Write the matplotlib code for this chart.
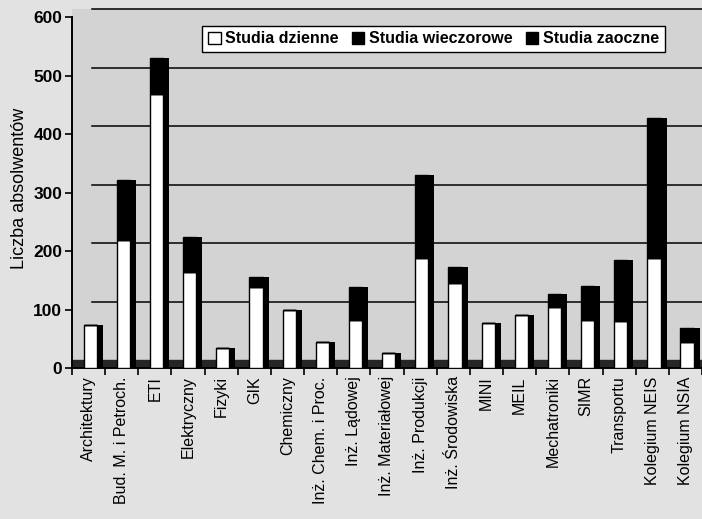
import matplotlib
matplotlib.use("Agg")
import matplotlib.pyplot as plt
import matplotlib.transforms as mtransforms
import numpy as np

plt.rcParams['font.family'] = ['Liberation Sans', 'DejaVu Sans']

categories = ["Architektury", "Bud. M. i Petroch.", "ETI", "Elektryczny", "Fizyki", "GIK",
              "Chemiczny", "Inż. Chem. i Proc.", "Inż. Lądowej", "Inż. Materiałowej",
              "Inż. Produkcji", "Inż. Środowiska", "MINI", "MEIL", "Mechatroniki", "SIMR",
              "Transportu", "Kolegium NEIS", "Kolegium NSIA"]
dzienne = [73, 219, 468, 164, 35, 139, 100, 45, 82, 25, 188, 145, 77, 90, 104, 82, 80, 188, 45]
wieczorowe = [0, 0, 0, 0, 0, 0, 0, 0, 0, 0, 0, 0, 0, 0, 0, 0, 0, 0, 0]
zaoczne = [0, 102, 63, 60, 0, 17, 0, 0, 56, 0, 142, 28, 0, 0, 22, 58, 105, 239, 23]
yticks = [0, 100, 200, 300, 400, 500, 600]

x = np.arange(len(categories))
dz = np.array(dzienne)
wi = np.array(wieczorowe)
za = np.array(zaoczne)
total = dz + wi + za

fig = plt.figure(figsize=(7.02, 5.19), dpi=100, facecolor='#e2e2e2')
ax = fig.add_axes([72/702, 151/519, 630/702, 359/519])
ax.set_facecolor('#d3d3d3')
ax.set_xlim(-0.5, len(categories) - 0.5)
ax.set_ylim(0, 614)

# back-wall gridlines shifted up (3D look)
off = mtransforms.ScaledTranslation(0.1, 0.08, fig.dpi_scale_trans)
for v in yticks[1:]:
    ax.plot([-0.2, len(categories)], [v, v], color='black', lw=1.1,
            transform=ax.transData + off, zorder=1, clip_on=False)
# floor
ax.axhspan(0, 14, color='#262626', zorder=1)

w = 0.40
ax.bar(x + 0.05, dz, width=w, color='white', edgecolor='black', lw=1.0, zorder=3,
       label='Studia dzienne')
ax.bar(x + 0.05, wi, width=w, bottom=dz, color='black', edgecolor='black', lw=1.0, zorder=3,
       label='Studia wieczorowe')
ax.bar(x + 0.05, za, width=w, bottom=dz + wi, color='black', edgecolor='black', lw=1.0,
       zorder=3, label='Studia zaoczne')
# bar sides
ax.bar(x + 0.25, total, width=0.18, align='edge', color='black', zorder=2.9)

ax.set_yticks(yticks)
ax.set_yticklabels([str(v) for v in yticks], fontsize=12.5, fontweight='bold')
ax.set_xticks(x)
ax.set_xticklabels(categories, rotation=90, fontsize=11.5)
ax.set_xticks(np.arange(len(categories) + 1) - 0.5, minor=True)
ax.tick_params(axis='x', which='major', length=0, pad=6)
ax.tick_params(axis='x', which='minor', length=5, width=1.2, direction='out')
ax.tick_params(axis='y', length=5, width=1.2, direction='out', pad=2)

for s in ['top', 'right']:
    ax.spines[s].set_visible(False)
ax.spines['left'].set_bounds(0, 600)
ax.spines['left'].set_linewidth(1.4)
ax.spines['bottom'].set_linewidth(1.4)

ax.set_ylabel('Liczba absolwentów', fontsize=13, labelpad=4)

leg = ax.legend(loc='upper right', bbox_to_anchor=(0.941, 0.953), ncol=3,
                frameon=True, fancybox=False, edgecolor='black', framealpha=1,
                borderaxespad=0, handlelength=0.8, handleheight=0.8, handletextpad=0.3,
                columnspacing=0.8, borderpad=0.35, prop={'weight': 'bold', 'size': 11.5})
leg.get_frame().set_linewidth(1.0)

fig.savefig('out.png', dpi=100, facecolor=fig.get_facecolor())
